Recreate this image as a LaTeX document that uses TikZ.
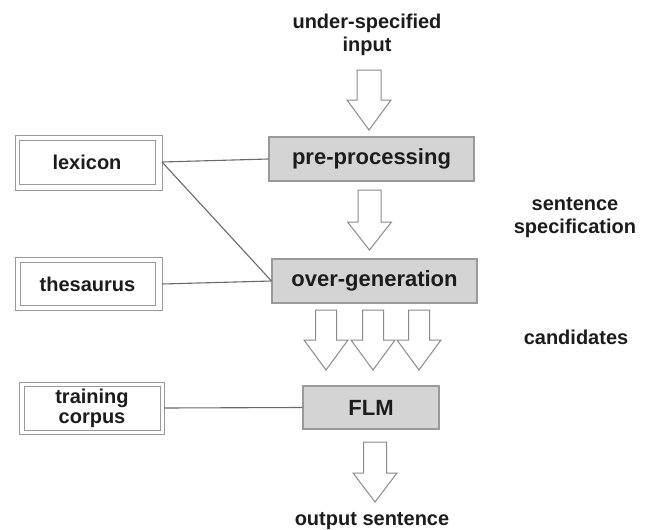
\documentclass[tikz,border=0pt]{standalone}
\usepackage{fontspec}
\setmainfont{Liberation Sans}
\definecolor{boxfill}{HTML}{D4D4D4}
\definecolor{boxline}{HTML}{9A9A9A}
\definecolor{conline}{HTML}{6A6A6A}
\definecolor{arrline}{HTML}{8A8A8A}
\definecolor{txt}{HTML}{1C1C1C}
\tikzset{
  procbox/.style={draw=boxline, fill=boxfill, line width=1.1pt, inner sep=0pt,
    font=\fontsize{22}{22}\selectfont\bfseries, text=txt},
  resbox/.style={draw=boxline, line width=1pt, inner sep=0pt, outer sep=0pt, align=center,
    font=\fontsize{20}{20}\selectfont\bfseries, text=txt},
  frame/.style={draw=boxline, line width=1pt},
  lbl/.style={align=center, inner sep=0pt, font=\fontsize{20}{23}\selectfont\bfseries, text=txt},
  conn/.style={draw=conline, line width=1.1pt},
  arrowline/.style={draw=arrline, fill=white, line width=1pt, line join=miter},
  pics/downarrow/.style n args={3}{code={
    \draw[arrowline] (-#1,0) -- (#1,0) -- (#1,#2) -- (22,#2) -- (0,#3) -- (-22,#2) -- (-#1,#2) -- cycle;
  }}
}
\begin{document}
\begin{tikzpicture}[x=1pt,y=-1pt]
\useasboundingbox (0,0) rectangle (648,530);
\fill[white] (0,0) rectangle (648,530);

% process boxes
\node[procbox, minimum width=205pt, minimum height=44pt] (pre) at (371.5,159) {pre-processing};
\node[procbox, minimum width=205pt, minimum height=44pt] (over) at (374.5,281) {over-generation};
\node[procbox, minimum width=136pt, minimum height=43pt] (flm) at (371,407.5) {FLM};

% resource boxes (inner frame = node, outer frame drawn around it)
\node[resbox, minimum width=136pt, minimum height=44pt] (lex) at (87,162) {lexicon};
\draw[frame] ([xshift=-4pt,yshift=5pt]lex.north west) rectangle ([xshift=7pt,yshift=-6pt]lex.south east);
\node[resbox, minimum width=135pt, minimum height=43pt] (thes) at (87.5,284) {thesaurus};
\draw[frame] ([xshift=-5pt,yshift=5pt]thes.north west) rectangle ([xshift=7pt,yshift=-5pt]thes.south east);
\node[resbox, minimum width=136pt, minimum height=44pt] (train) at (92,408) {training\\corpus};
\draw[frame] ([xshift=-5pt,yshift=4pt]train.north west) rectangle ([xshift=4pt,yshift=-4pt]train.south east);

% connectors (start at the outer frame)
\draw[conn] ([xshift=7pt]lex.east) -- (pre.west);
\draw[conn] ([xshift=7pt]lex.east) -- (over.west);
\draw[conn] ([xshift=7pt]thes.east) -- (over.west);
\draw[conn] ([xshift=4pt]train.east) -- (flm.west);

% labels
\node[lbl] (in) at (367,35) {under-specified\\input};
\node[lbl] (spec) at (575,217.5) {sentence\\specification};
\node[lbl] (cand) at (576,337) {candidates};
\node[lbl] (out) at (372,521) {output sentence};

% block arrows
\pic at (369,70) {downarrow={12}{30}{60}};
\pic at (369.5,190) {downarrow={11.5}{32}{60}};
\pic at (326,310) {downarrow={10.5}{30}{60}};
\pic at (373,310) {downarrow={10.5}{30}{60}};
\pic at (419,310) {downarrow={10.5}{30}{60}};
\pic at (375,442) {downarrow={11.5}{31}{60}};
\end{tikzpicture}
\end{document}
